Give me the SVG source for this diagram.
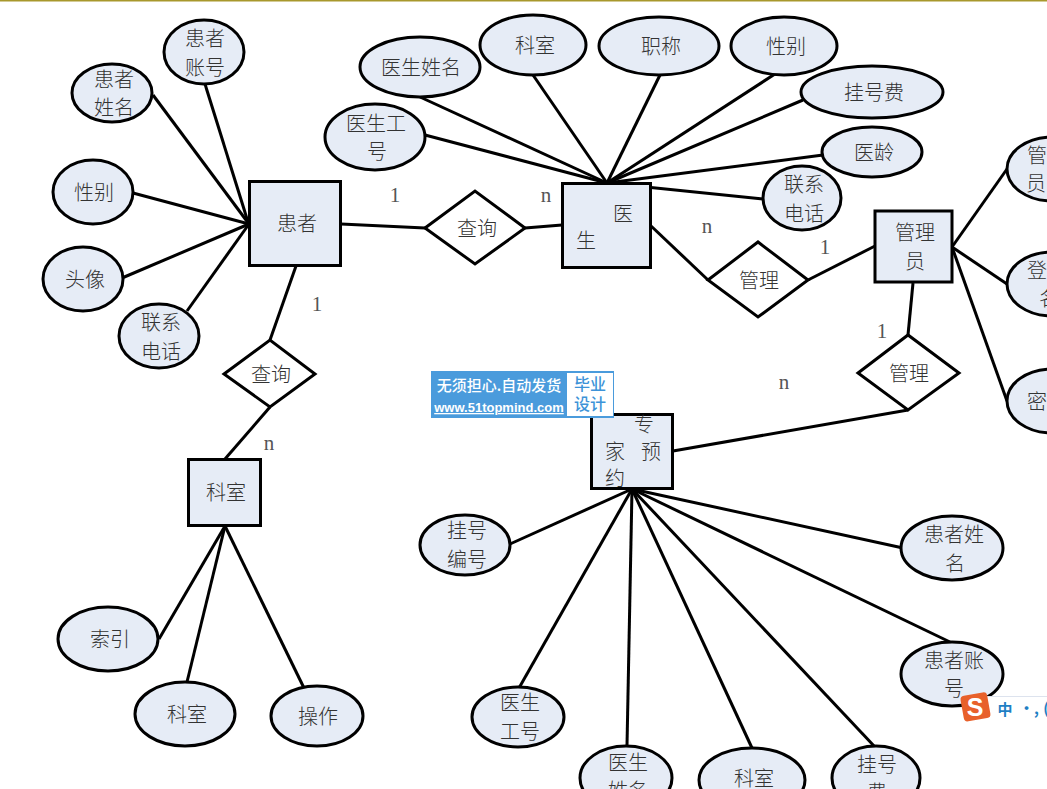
<svg xmlns="http://www.w3.org/2000/svg" width="1047" height="789" viewBox="0 0 1047 789">
<style>
.s{fill:#e6ecf6;stroke:#000;stroke-width:3}
.d{fill:#fff;stroke:#000;stroke-width:3}
#connectors line{stroke:#000;stroke-width:3}
text{font-family:"Noto Sans CJK SC","Liberation Sans",sans-serif;font-size:20px;fill:#333;text-anchor:middle;font-weight:300}
g:not(#watermark):not(#ime):not(#labels) text{transform:translate(1px,1px)}
.l{font-family:"Liberation Serif",serif;font-size:21px;fill:#555}
</style>
<rect width="1047" height="789" fill="#fff"/>
<rect width="1047" height="1.5" fill="#a8982c"/>
<g id="connectors">
<line x1="205" y1="84" x2="248" y2="222"/><line x1="153" y1="95" x2="249" y2="224"/><line x1="133" y1="193" x2="249" y2="224"/><line x1="122" y1="278" x2="249" y2="224"/><line x1="187" y1="311" x2="249" y2="224"/>
<line x1="341" y1="224" x2="425" y2="228"/><line x1="525" y1="228" x2="562" y2="225"/><line x1="296" y1="266" x2="270" y2="340"/><line x1="270" y1="407" x2="225" y2="459"/>
<line x1="225" y1="526" x2="159" y2="639"/><line x1="225" y1="526" x2="187" y2="682"/><line x1="225" y1="526" x2="304" y2="688"/>
<line x1="607" y1="183" x2="425" y2="135"/><line x1="607" y1="183" x2="420" y2="97"/><line x1="607" y1="183" x2="533" y2="75"/><line x1="607" y1="183" x2="660" y2="75"/><line x1="607" y1="183" x2="778" y2="72"/><line x1="607" y1="183" x2="803" y2="100"/><line x1="607" y1="183" x2="823" y2="155"/><line x1="607" y1="183" x2="763" y2="199"/>
<line x1="650" y1="225" x2="708" y2="280"/><line x1="808" y1="280" x2="875" y2="246"/><line x1="913" y1="283" x2="908" y2="335"/><line x1="908" y1="410" x2="673" y2="451"/>
<line x1="952" y1="247" x2="1007" y2="169"/><line x1="952" y1="247" x2="1007" y2="284"/><line x1="952" y1="247" x2="1007" y2="401"/>
<line x1="632" y1="489" x2="510" y2="544"/><line x1="632" y1="489" x2="519" y2="688"/><line x1="632" y1="489" x2="627" y2="746"/><line x1="632" y1="489" x2="752" y2="748"/><line x1="632" y1="489" x2="875" y2="747"/><line x1="632" y1="489" x2="903" y2="548"/><line x1="632" y1="489" x2="950" y2="642"/>
</g>
<g id="patient"><rect class="s" x="249.500" y="181.500" width="91" height="84"/><text x="296" y="230">患者</text></g>
<g id="a1"><ellipse class="s" cx="204" cy="52" rx="40" ry="32"/><text x="204" y="45">患者</text><text x="204" y="74">账号</text></g>
<g id="a2"><ellipse class="s" cx="112" cy="93" rx="40" ry="29"/><text x="113" y="86">患者</text><text x="113" y="114">姓名</text></g>
<g id="a3"><ellipse class="s" cx="93" cy="192" rx="40" ry="32"/><text x="93" y="199">性别</text></g>
<g id="a4"><ellipse class="s" cx="83" cy="279" rx="40" ry="32"/><text x="84" y="286">头像</text></g>
<g id="a5"><ellipse class="s" cx="159" cy="336" rx="40" ry="32"/><text x="160" y="329">联系</text><text x="160" y="358">电话</text></g>
<g id="r1"><polygon class="d" points="425,228 475,191 525,228 475,264"/><text x="476" y="235">查询</text></g>
<g id="r2"><polygon class="d" points="224,374 270,340 315,374 270,407"/><text x="270" y="381">查询</text></g>
<g id="dept"><rect class="s" x="188.500" y="459.500" width="72" height="66"/><text x="225" y="499">科室</text></g>
<g id="a6"><ellipse class="s" cx="108" cy="639" rx="50" ry="32"/><text x="109" y="646">索引</text></g>
<g id="a7"><ellipse class="s" cx="185" cy="714" rx="50" ry="32"/><text x="186" y="721">科室</text></g>
<g id="a8"><ellipse class="s" cx="317" cy="716" rx="46" ry="30"/><text x="317" y="723">操作</text></g>
<g id="doctor"><rect class="s" x="562.500" y="183.500" width="88" height="84"/><text x="622" y="220">医</text><text x="585" y="247">生</text></g>
<g id="b1"><ellipse class="s" cx="375" cy="137" rx="50" ry="33"/><text x="375" y="130">医生工</text><text x="376" y="158">号</text></g>
<g id="b2"><ellipse class="s" cx="420" cy="67" rx="60" ry="30"/><text x="420" y="74">医生姓名</text></g>
<g id="b3"><ellipse class="s" cx="533" cy="45" rx="53" ry="30"/><text x="534" y="52">科室</text></g>
<g id="b4"><ellipse class="s" cx="659" cy="46" rx="60" ry="29"/><text x="660" y="53">职称</text></g>
<g id="b5"><ellipse class="s" cx="784" cy="46" rx="53" ry="29"/><text x="785" y="53">性别</text></g>
<g id="b6"><ellipse class="s" cx="872" cy="92" rx="71" ry="26"/><text x="873" y="99">挂号费</text></g>
<g id="b7"><ellipse class="s" cx="872" cy="152" rx="50" ry="25"/><text x="873" y="159">医龄</text></g>
<g id="b8"><ellipse class="s" cx="802" cy="198" rx="39" ry="32"/><text x="803" y="191">联系</text><text x="803" y="220">电话</text></g>
<g id="r3"><polygon class="d" points="708,280 758,242 808,280 758,317"/><text x="758" y="287">管理</text></g>
<g id="admin"><rect class="s" x="875" y="211" width="77" height="71"/><text x="914" y="239">管理</text><text x="914" y="268">员</text></g>
<g id="r4"><polygon class="d" points="858,373 908,335 959,373 908,410"/><text x="908" y="380">管理</text></g>
<g id="c1"><ellipse class="s" cx="1052" cy="169" rx="45" ry="32"/><text x="1036" y="162">管</text><text x="1035" y="190">员</text></g>
<g id="c2"><ellipse class="s" cx="1052" cy="284" rx="45" ry="32"/><text x="1036" y="277">登</text><text x="1048" y="305">名</text></g>
<g id="c3"><ellipse class="s" cx="1052" cy="401" rx="45" ry="32"/><text x="1036" y="408">密</text></g>
<g id="booking"><rect class="s" x="591.500" y="414.500" width="81" height="74"/><text x="643" y="431">专</text><text x="614" y="458">家</text><text x="650" y="458">预</text><text x="614" y="485">约</text></g>
<g id="e1"><ellipse class="s" cx="465" cy="545" rx="45" ry="30"/><text x="466" y="537">挂号</text><text x="466" y="566">编号</text></g>
<g id="e2"><ellipse class="s" cx="518" cy="717" rx="46" ry="30"/><text x="519" y="709">医生</text><text x="519" y="738">工号</text></g>
<g id="e3"><ellipse class="s" cx="626" cy="778" rx="46" ry="32"/><text x="627" y="769">医生</text><text x="627" y="797">姓名</text></g>
<g id="e4"><ellipse class="s" cx="752" cy="780" rx="53" ry="32"/><text x="753" y="785">科室</text></g>
<g id="e5"><ellipse class="s" cx="876" cy="778" rx="44" ry="32"/><text x="876" y="771">挂号</text><text x="876" y="799">费</text></g>
<g id="e6"><ellipse class="s" cx="952" cy="548" rx="51" ry="32"/><text x="953" y="541">患者姓</text><text x="954" y="570">名</text></g>
<g id="e7"><ellipse class="s" cx="952" cy="674" rx="51" ry="32"/><text x="953" y="667">患者账</text><text x="953" y="695">号</text></g>
<g id="labels">
<text class="l" x="395" y="202">1</text><text class="l" x="546" y="202">n</text><text class="l" x="707" y="233">n</text><text class="l" x="825" y="254">1</text><text class="l" x="317" y="311">1</text><text class="l" x="269" y="450">n</text><text class="l" x="882" y="338">1</text><text class="l" x="784" y="389">n</text>
</g>
<g id="watermark">
<rect x="431" y="371" width="183" height="47" fill="#4a9bdc"/>
<rect x="567" y="373" width="46" height="43" fill="#fff"/>
<text x="499" y="391" style="font-size:15px;fill:#fff;font-weight:500">无须担心.自动发货</text>
<text x="499" y="412" style="font-family:'Liberation Sans',sans-serif;font-size:13px;fill:#fff;font-weight:700" text-decoration="underline">www.51topmind.com</text>
<text x="590" y="390" style="font-size:16px;fill:#3d93d8;font-weight:500">毕业</text>
<text x="590" y="410" style="font-size:16px;fill:#3d93d8;font-weight:500">设计</text>
</g>
<g id="ime">
<rect x="985" y="696" width="62" height="25" fill="#fff"/>
<line x1="985" y1="696.500" x2="1047" y2="696.500" stroke="#dde3ee"/>
<rect x="962" y="694" width="27" height="26" rx="4" fill="#e8602a" transform="rotate(-10 975 707)"/>
<text x="975" y="716" style="font-family:'Liberation Sans',sans-serif;font-size:25px;fill:#fff;font-weight:700">S</text>
<text x="1005" y="715" style="font-size:15px;fill:#1f7fc4;font-weight:700">中</text>
<text x="1029" y="714" style="font-size:15px;fill:#1f7fc4;font-weight:700">•,</text>
<text x="1046" y="714" style="font-size:15px;fill:#1f7fc4;font-weight:700">(</text>
</g>
</svg>
